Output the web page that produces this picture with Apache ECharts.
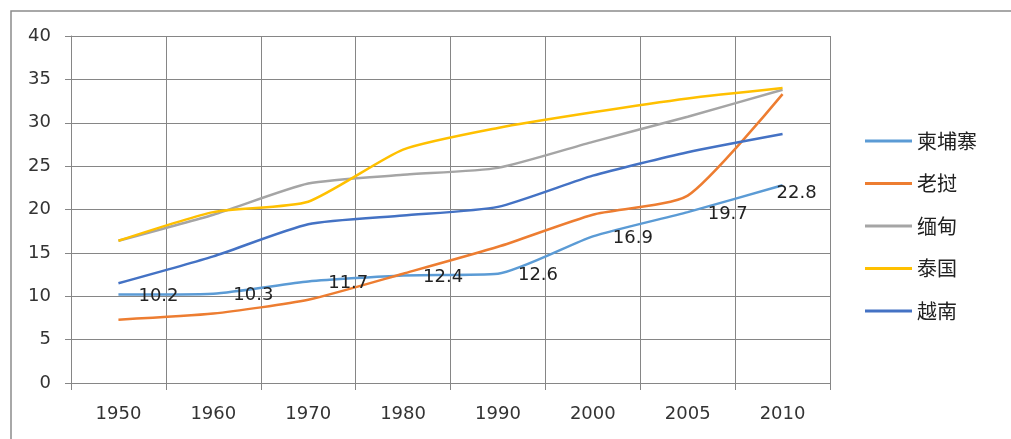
<!DOCTYPE html>
<html lang="zh-CN">
<head>
<meta charset="UTF-8">
<title>东南亚五国 折线图</title>
<script src="https://cdn.jsdelivr.net/npm/echarts@6/dist/echarts.min.js"></script>
<style>
    html, body { margin: 0; padding: 0; background: #fff; }
    #main { width: 1011px; height: 439px; }
</style>
</head>
<body>
<div id="main"></div>
<script>
// 横轴年份
const years = ['1950', '1960', '1970', '1980', '1990', '2000', '2005', '2010'];

// 各国数值
const cambodia = [10.2, 10.3, 11.7, 12.4, 12.6, 16.9, 19.7, 22.8];
const laos     = [7.3, 8.0, 9.6, 12.6, 15.7, 19.4, 21.6, 33.3];
const myanmar  = [16.4, 19.4, 23.0, 24.0, 24.8, 27.8, 30.7, 33.8];
const thailand = [16.4, 19.7, 20.9, 26.9, 29.4, 31.2, 32.8, 34.0];
const vietnam  = [11.5, 14.6, 18.3, 19.3, 20.3, 23.9, 26.6, 28.7];

const names  = ['柬埔寨', '老挝', '缅甸', '泰国', '越南'];
const colors = ['#5B9BD5', '#ED7D31', '#A5A5A5', '#FFC000', '#4472C4'];
const yTicks = [0, 5, 10, 15, 20, 25, 30, 35, 40];

const chart = echarts.init(document.getElementById('main'));

function lineSeries(name, values, color) {
    return {
        name: name,
        type: 'line',
        data: values,
        smooth: 0.2,
        symbol: 'circle',
        symbolSize: 0,
        showSymbol: true,
        lineStyle: { width: 2.5, color: color },
        itemStyle: { color: color }
    };
}

// 柬埔寨带数据标签，最后一个点标签放左一点
const cambodiaData = cambodia.map(function (v, i) {
    if (i === cambodia.length - 1) {
        return { value: v, label: { offset: [-11, 8] } };
    }
    return v;
});

const first = lineSeries(names[0], cambodiaData, colors[0]);
first.label = {
    show: true,
    position: 'right',
    offset: [15, 2],
    color: '#222',
    fontSize: 18,
    fontFamily: 'DejaVu Sans'
};

const option = {
    animation: false,
    color: colors,
    grid: { left: 71, top: 36, right: 181, bottom: 56 },
    graphic: [{
        type: 'rect',
        shape: { x: 11, y: 11, width: 1100, height: 600 },
        style: { fill: 'none', stroke: '#8c8c8c', lineWidth: 1.5 },
        silent: true
    }],
    legend: {
        orient: 'vertical',
        left: 865,
        top: 131,
        padding: 0,
        icon: 'rect',
        itemWidth: 47,
        itemHeight: 3,
        itemGap: 22.5,
        textStyle: { fontSize: 20, color: '#222', fontFamily: 'Noto Sans CJK SC' },
        data: names
    },
    xAxis: {
        type: 'category',
        data: years,
        boundaryGap: true,
        axisLine: { lineStyle: { color: '#868686', width: 1 } },
        axisTick: { show: true, length: 7, lineStyle: { color: '#868686' } },
        splitLine: { show: true, lineStyle: { color: '#868686', width: 1 } },
        axisLabel: { margin: 22, fontSize: 18, color: '#333', fontFamily: 'DejaVu Sans' }
    },
    yAxis: {
        type: 'value',
        min: 0,
        max: 40,
        interval: 5,
        axisLine: { show: true, lineStyle: { color: '#868686', width: 1 } },
        axisTick: { show: true, length: 6, lineStyle: { color: '#868686' } },
        splitLine: { show: true, lineStyle: { color: '#868686', width: 1 } },
        axisLabel: {
            margin: 20, fontSize: 18, color: '#333', fontFamily: 'DejaVu Sans',
            formatter: function (v) { return yTicks.indexOf(v) >= 0 ? String(v) : ''; }
        }
    },
    series: [
        first,
        lineSeries(names[1], laos, colors[1]),
        lineSeries(names[2], myanmar, colors[2]),
        lineSeries(names[3], thailand, colors[3]),
        lineSeries(names[4], vietnam, colors[4])
    ]
};

chart.setOption(option);
window.addEventListener('resize', function () { chart.resize(); });
</script>
</body>
</html>
